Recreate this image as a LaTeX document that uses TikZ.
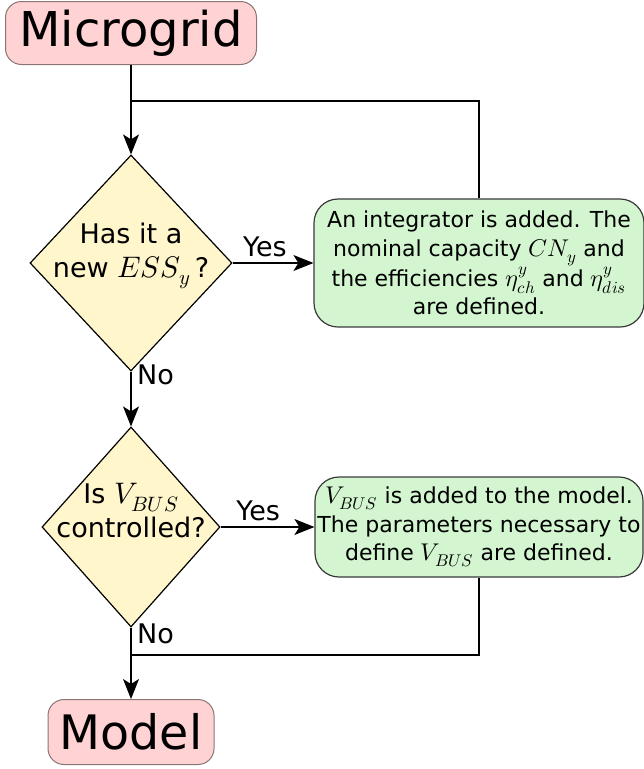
\documentclass[tikz,border=0pt]{standalone}
\usepackage{fontspec}
\usepackage{unicode-math}
\setmainfont{DejaVu Sans}
\setmathfont{latinmodern-math.otf}[Scale=1.1]
\usetikzlibrary{shapes.geometric,arrows.meta}
\definecolor{termfill}{HTML}{FFD3D3}
\definecolor{termdraw}{HTML}{8C7474}
\definecolor{decfill}{HTML}{FFF6CC}
\definecolor{procfill}{HTML}{D3F5CF}
\definecolor{procdraw}{HTML}{3A3A3A}
\begin{document}
\begin{tikzpicture}[x=1pt,y=-1pt,
  terminal/.style={rectangle,rounded corners=16pt,draw=termdraw,fill=termfill,line width=1pt,
    inner sep=0pt},
  decision/.style={diamond,draw=black,fill=decfill,line width=1.2pt,inner sep=0pt},
  process/.style={rectangle,rounded corners=24pt,draw=procdraw,fill=procfill,line width=1.2pt,
    inner sep=0pt,align=center,font=\fontsize{22}{28.5}\selectfont},
  qtext/.style={align=center,inner sep=0pt,font=\fontsize{27}{34}\selectfont},
  lbl/.style={inner sep=0pt,font=\fontsize{27}{30}\selectfont},
  flow/.style={line width=1.2pt},
  arrow/.style={flow,-{Stealth[length=20pt,width=16pt,inset=5pt]}}]
\useasboundingbox (0,0) rectangle (644,769);

% terminals
\node[terminal,minimum width=251pt,minimum height=63pt,font=\fontsize{48}{52}\selectfont]
  (mg) at (131,33) {Microgrid};
\node[terminal,minimum width=166pt,minimum height=65pt,font=\fontsize{47.5}{52}\selectfont]
  (model) at (131,732) {Model};

% decisions
\node[decision,minimum width=202pt,minimum height=216pt] (d1) at (131,263) {};
\node[qtext] (q1) at (131,256) {Has it a\\new $ESS_y$\,?};
\node[decision,minimum width=178pt,minimum height=200pt] (d2) at (131,527) {};
\node[qtext] (q2) at (131,511) {Is $V_{BUS}$\\controlled?};

% processes
\node[process,minimum width=330pt,minimum height=128pt] (p1) at (479,263)
  {An integrator is added. The\\nominal capacity $CN_y$ and\\the efficiencies $\eta^y_{ch}$ and $\eta^y_{dis}$\\are defined.};
\node[process,minimum width=328pt,minimum height=100pt] (p2) at (479,527)
  {$V_{BUS}$ is added to the model.\\The parameters necessary to\\define $V_{BUS}$ are defined.};

% junctions of the return lines
\coordinate (j1) at (131,101);
\coordinate (j2) at (131,655);

% connectors
\draw[arrow] (mg.south) -- (d1.north);
\draw[flow] (p1.north) |- (j1);
\draw[arrow] (d1.east) -- node[lbl,above=6pt,pos=0.4] (y1) {Yes} (p1.west);
\draw[arrow] (d1.south) -- (d2.north);
\node[lbl,anchor=north west] (n1) at ([xshift=6pt,yshift=7pt]d1.south) {No};
\draw[arrow] (d2.east) -- node[lbl,above=6pt,pos=0.4] (y2) {Yes} (p2.west);
\draw[flow] (p2.south) |- (j2);
\draw[arrow] (d2.south) -- (model.north);
\node[lbl,anchor=north west] (n2) at ([xshift=6pt,yshift=4pt]d2.south) {No};
\end{tikzpicture}
\end{document}
